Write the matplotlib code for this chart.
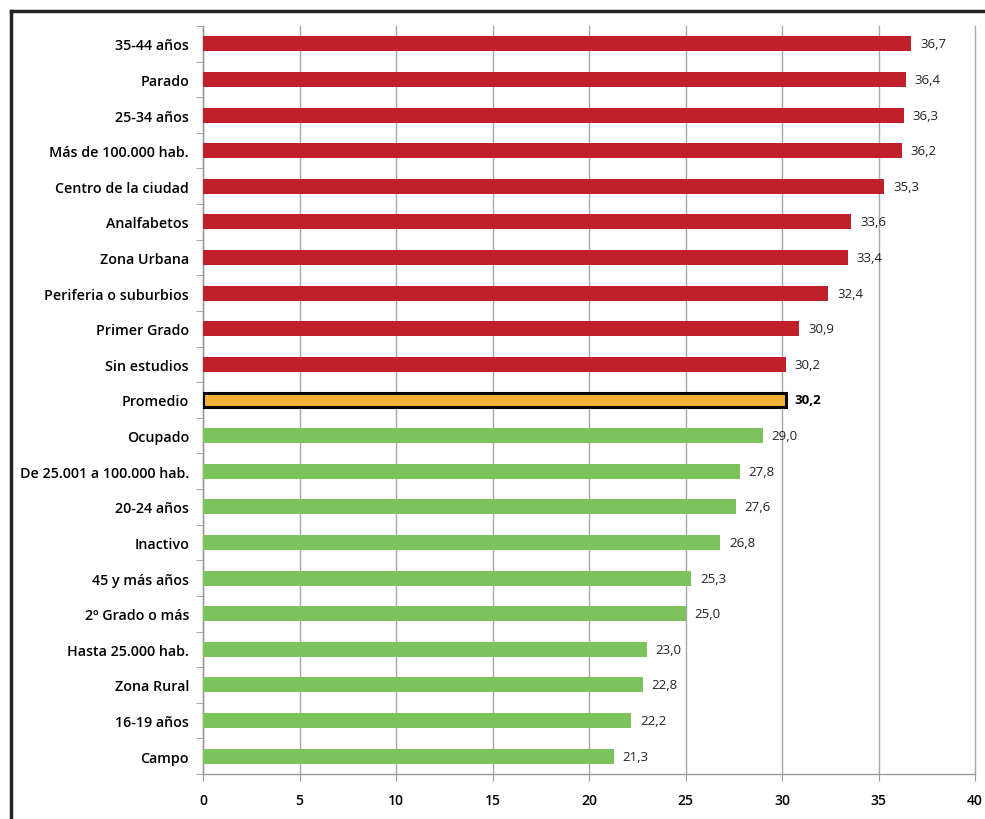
import matplotlib
matplotlib.use("Agg")
import matplotlib.pyplot as plt
from matplotlib.lines import Line2D
import numpy as np

categories = ["35-44 años", "Parado", "25-34 años", "Más de 100.000 hab.",
              "Centro de la ciudad", "Analfabetos", "Zona Urbana",
              "Periferia o suburbios", "Primer Grado", "Sin estudios",
              "Promedio", "Ocupado", "De 25.001 a 100.000 hab.", "20-24 años",
              "Inactivo", "45 y más años", "2º Grado o más", "Hasta 25.000 hab.",
              "Zona Rural", "16-19 años", "Campo"]
values = [36.7, 36.4, 36.3, 36.2, 35.3, 33.6, 33.4, 32.4, 30.9, 30.2,
          30.2, 29.0, 27.8, 27.6, 26.8, 25.3, 25.0, 23.0, 22.8, 22.2, 21.3]
groups = ["alto"] * 10 + ["promedio"] + ["bajo"] * 10
xticks = [0, 5, 10, 15, 20, 25, 30, 35, 40]

colors = {"alto": "#C0202A", "promedio": "#F2B134", "bajo": "#7DC35B"}

plt.rcParams['font.family'] = ['Open Sans', 'DejaVu Sans']

fig = plt.figure(figsize=(9.85, 8.2), dpi=100)
ax = fig.add_axes([203/985, 1 - 775/820, (975 - 203)/985, (775 - 27)/820])

n = len(categories)
y = np.arange(n)[::-1]
for yi, v, g in zip(y, values, groups):
    if g == "promedio":
        ax.barh(yi, v, height=0.42, color=colors[g], edgecolor="black",
                linewidth=2.2, zorder=3)
        ax.text(v + 0.45, yi, f"{v:.1f}".replace(".", ","), va="center",
                ha="left", fontsize=9.5, fontweight="bold", color="black")
    else:
        ax.barh(yi, v, height=0.42, color=colors[g], edgecolor="none", zorder=3)
        ax.text(v + 0.45, yi, f"{v:.1f}".replace(".", ","), va="center",
                ha="left", fontsize=9.5, color="#222222")

ax.set_xlim(0, 40)
ax.set_ylim(-0.5, n - 0.5)
ax.set_xticks(xticks)
ax.set_xticklabels([str(t) for t in xticks], fontsize=10, fontweight="semibold")
ax.set_yticks(y)
ax.set_yticklabels(categories, fontsize=10.3, fontweight="semibold")
ax.tick_params(axis="y", length=0, pad=10)
ax.set_yticks(np.arange(n + 1) - 0.5, minor=True)
ax.tick_params(axis="y", which="minor", length=5, color="#999999", direction="out")
ax.tick_params(axis="x", length=5, color="#999999", direction="out", pad=9)

ax.grid(axis="x", color="#A8A8A8", linewidth=1.0, zorder=0)
for gl in ax.get_xgridlines():
    gl.set_clip_on(False)
ax.set_axisbelow(True)
for s in ["top", "right"]:
    ax.spines[s].set_visible(False)
for s in ["left", "bottom"]:
    ax.spines[s].set_color("#999999")
    ax.spines[s].set_linewidth(1.0)

# outer frame (left and top edges)
fig.add_artist(Line2D([11/985, 11/985], [0, 1 - 12/820], transform=fig.transFigure,
                      color="#222222", linewidth=2.5))
fig.add_artist(Line2D([11/985, 1], [1 - 12/820, 1 - 12/820], transform=fig.transFigure,
                      color="#222222", linewidth=2.5))

fig.savefig("out.png", dpi=100, facecolor="white")
